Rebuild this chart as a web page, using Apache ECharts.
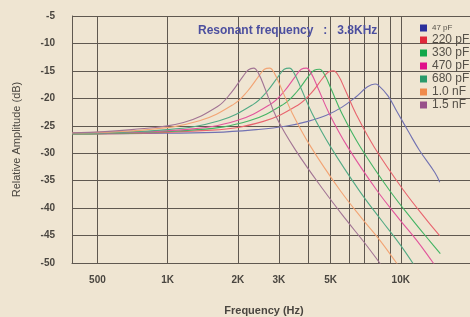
<!DOCTYPE html>
<html lang="en">
  <head>
    <meta charset="utf-8" />
    <title>Resonant frequency vs. capacitance</title>
    <script type="text/javascript" src="https://cdn.jsdelivr.net/npm/echarts@6/dist/echarts.min.js"></script>
    <style type="text/css">
      * {
        margin: 0;
        padding: 0;
      }
      html,
      body,
      #main {
        width: 100%;
        height: 100%;
        overflow: hidden;
        background: #efe5d2;
      }
    </style>
  </head>
  <body>
    <div id="main"></div>
    <script type="text/javascript">
      // capacitor values (legend)
      var capLabels = ["47 pF", "220 pF", "330 pF", "470 pF", "680 pF", "1.0 nF", "1.5 nF"];

      // response curves: frequency (Hz) and level (dB)
      var freq47 = [390, 800, 1600, 2400, 3200, 4000, 4800, 5600, 6400, 7200, 7760, 8000, 8800, 9600, 10800, 12000, 14000, 14700];
      var db47 = [-26.5, -26.4, -26.2, -25.7, -25.1, -24.2, -23.1, -21.6, -19.8, -17.9, -17.4, -17.6, -19.5, -22.3, -26.1, -29.4, -33.5, -35.3];

      var freq220 = [390, 1545, 2575, 3605, 4120, 4635, 4893, 5150, 5408, 5768, 6438, 7725, 10300, 12875, 14680];
      var db220 = [-26.5, -25.8, -24.2, -21.3, -19.1, -16.3, -15.2, -15.0, -15.9, -18.4, -22.9, -29.0, -36.8, -42.1, -45.0];

      var freq330 = [390, 1344, 2240, 3136, 3584, 4032, 4256, 4480, 4704, 5018, 5600, 6720, 8960, 11200, 13440, 14780];
      var db330 = [-26.5, -25.7, -24.1, -21.1, -18.8, -15.9, -14.9, -14.7, -15.6, -18.2, -22.8, -28.9, -36.8, -42.1, -46.2, -48.3];

      var freq470 = [390, 1182, 1970, 2758, 3152, 3546, 3743, 3940, 4137, 4413, 4925, 5910, 7880, 9850, 11820, 13790, 14700];
      var db470 = [-26.4, -25.7, -24.1, -21.1, -18.8, -15.9, -14.7, -14.5, -15.5, -18.1, -22.7, -28.8, -36.7, -42.0, -46.1, -50.0, -51.5];

      var freq680 = [390, 1000, 1665, 2331, 2664, 2997, 3164, 3330, 3497, 3730, 4163, 4995, 6660, 8325, 9990, 11655];
      var db680 = [-26.4, -25.7, -24.1, -21.1, -18.8, -15.9, -14.7, -14.5, -15.5, -18.1, -22.7, -28.8, -36.9, -42.4, -46.8, -51.0];

      var freq1n0 = [390, 822, 1370, 1918, 2192, 2466, 2603, 2740, 2877, 3069, 3425, 4110, 5480, 6850, 8220, 9590, 10400];
      var db1n0 = [-26.3, -25.7, -24.1, -21.1, -18.8, -15.9, -14.7, -14.5, -15.5, -18.1, -22.7, -28.8, -36.7, -42.0, -46.1, -50.0, -52.0];

      var freq1n5 = [390, 702, 1170, 1638, 1872, 2106, 2223, 2340, 2457, 2621, 2925, 3510, 4680, 5850, 7020, 8190, 8800];
      var db1n5 = [-26.3, -25.7, -24.4, -21.5, -19.0, -16.0, -14.8, -14.5, -15.5, -18.3, -23.4, -29.2, -36.8, -42.2, -46.4, -50.2, -52.0];

      // x axis: grid lines and the labelled frequencies
      var gridFreqs = [500, 1000, 2000, 3000, 4000, 5000, 6000, 7000, 8000, 9000, 10000];
      var labelFreqs = [500, 1000, 2000, 3000, 5000, 10000];
      var tickLabels = ["500", "1K", "2K", "3K", "5K", "10K"];

      var freqs = [freq47, freq220, freq330, freq470, freq680, freq1n0, freq1n5];
      var levels = [db47, db220, db330, db470, db680, db1n0, db1n5];
      var lineColors = ["#7272b2", "#e8646e", "#44b464", "#e2559c", "#52aa84", "#f2a474", "#a27494"];
      var iconColors = ["#2b2f9c", "#e0283a", "#12a84a", "#e0108a", "#2a9a6a", "#f08a4a", "#98508a"];

      var gridColor = "#5f5850";

      var chart = echarts.init(document.getElementById("main"));

      var series = capLabels.map(function (name, i) {
        return {
          name: name,
          type: "line",
          smooth: 0.4,
          showSymbol: false,
          data: freqs[i].map(function (f, j) {
            return [Math.log10(f), levels[i][j]];
          }),
          itemStyle: { color: iconColors[i] },
          lineStyle: { color: lineColors[i], width: 1.1 },
        };
      });

      chart.setOption({
        backgroundColor: "#efe5d2",
        animation: false,
        title: {
          text: "Resonant frequency   :   3.8KHz",
          left: 198,
          top: 25,
          padding: 0,
          textStyle: {
            color: "#4c4f9f",
            fontSize: 12,
            fontWeight: "bold",
            fontFamily: "Liberation Sans",
          },
        },
        legend: {
          orient: "vertical",
          left: 420,
          top: 23,
          padding: 0,
          icon: "rect",
          itemWidth: 7,
          itemHeight: 7,
          itemGap: 1,
          data: capLabels,
          formatter: function (name) {
            return name === "47 pF" ? "{s|" + name + "}" : name;
          },
          textStyle: {
            color: "#555048",
            fontSize: 12,
            lineHeight: 10,
            fontFamily: "Liberation Sans",
            rich: { s: { fontSize: 8, color: "#555048" } },
          },
        },
        grid: {
          left: 72,
          right: 0,
          top: 16,
          bottom: 54,
          outerBoundsMode: "none",
        },
        xAxis: {
          type: "value",
          min: 2.59,
          max: 4.297,
          name: "Frequency (Hz)",
          nameLocation: "middle",
          nameGap: 42,
          nameTextStyle: {
            color: "#4a4640",
            fontSize: 11,
            fontWeight: "bold",
            fontFamily: "Liberation Sans",
            padding: [0, 14, 0, 0],
          },
          axisLine: { show: true, lineStyle: { color: gridColor, width: 1 } },
          axisTick: {
            show: false,
            customValues: gridFreqs.map(function (f) {
              return Math.log10(f);
            }),
          },
          axisLabel: {
            customValues: labelFreqs.map(function (f) {
              return Math.log10(f);
            }),
            formatter: function (v) {
              var best = 0;
              for (var i = 1; i < labelFreqs.length; i++) {
                if (Math.abs(Math.log10(labelFreqs[i]) - v) < Math.abs(Math.log10(labelFreqs[best]) - v)) best = i;
              }
              return tickLabels[best];
            },
            margin: 12,
            color: "#4a4640",
            fontSize: 10,
            fontWeight: "bold",
            fontFamily: "Liberation Sans",
          },
          splitLine: { show: true, lineStyle: { color: gridColor, width: 1 } },
        },
        yAxis: {
          type: "value",
          min: -50,
          max: -5,
          interval: 5,
          name: "Relative Amplitude (dB)",
          nameLocation: "middle",
          nameGap: 50,
          nameTextStyle: {
            color: "#4a4640",
            fontSize: 11,
            fontFamily: "Liberation Sans",
          },
          axisLine: { show: true, lineStyle: { color: gridColor, width: 1 } },
          axisTick: { show: false },
          axisLabel: {
            margin: 17,
            color: "#4a4640",
            fontSize: 10,
            fontWeight: "bold",
            fontFamily: "Liberation Sans",
          },
          splitLine: { show: true, lineStyle: { color: gridColor, width: 1 } },
        },
        series: series,
      });
    </script>
  </body>
</html>
